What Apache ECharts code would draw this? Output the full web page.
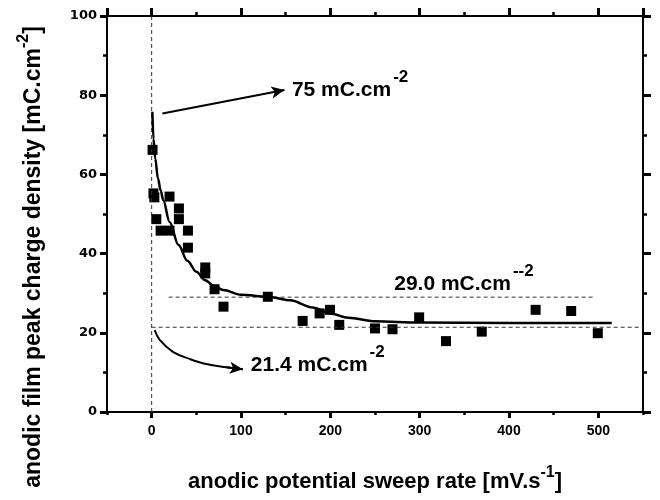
<!DOCTYPE html>
<html>
<head>
<meta charset="utf-8">
<script src="https://cdn.jsdelivr.net/npm/echarts@6/dist/echarts.min.js"></script>
<style>html,body{margin:0;padding:0;background:#fff}#c{width:660px;height:500px}</style>
</head>
<body>
<div id="c"></div>
<script>
// ---- data ----
const sweepRate = [1, 2, 3, 5.2, 10, 20, 20, 30.5, 30.5, 40.6, 40.6, 60, 60, 70.4, 80.4, 130, 169, 188, 199.6, 210, 250, 269.6, 299.4, 329.5, 369.5, 429.8, 469.6, 499.4];
const chargeDensity = [66.2, 55.2, 54.2, 48.7, 45.8, 45.8, 54.4, 51.4, 48.7, 45.8, 41.5, 36.5, 35.0, 31.0, 26.6, 29.1, 23.0, 24.9, 25.8, 22.0, 21.1, 20.9, 23.9, 17.9, 20.3, 25.8, 25.5, 19.9];
const fitX = [0.8, 2, 4, 7, 10, 13, 20, 30, 40, 50, 60, 70, 80, 100, 130, 155, 180, 200, 220, 250, 300, 400, 515];
const fitY = [75.8, 69, 64, 59, 56, 53.5, 48, 42.2, 38.2, 35.4, 33.3, 31.8, 30.8, 29.6, 29.1, 28.2, 26.4, 24.9, 23.8, 22.9, 22.6, 22.5, 22.5];
const level29 = 29.0, level29Span = [19, 495];
const level21 = 21.4, level21Span = [0, 550];
const xTickLabels = [0, 100, 200, 300, 400, 500];
const yTickLabels = [0, 20, 40, 60, 80, 100];
const xRange = [-50, 550];
const yRange = [0, 100];
// annotation anchors (data coords) and arrow paths
const note75 = { text: '75 mC.cm', sup: '-2', at: [157, 81.7] };
const note21 = { text: '21.4 mC.cm', sup: '-2', at: [111, 12.1] };
const note29 = { text: '29.0 mC.cm', sup: '--2', at: [271.5, 32.7] };
const arrow75 = [[12, 75.4], [148.6, 81.3]];
const arrow21PathX = [3.4, 9, 23.8, 42.5, 61, 83.5, 102];
const arrow21PathY = [20.7, 18.2, 15.2, 13.4, 12.1, 11.3, 10.8];

const chart = echarts.init(document.getElementById('c'), null, { renderer: 'canvas' });
const black = '#000';
const dash = [4, 3];
const font = 'Liberation Sans, Arial, sans-serif';

function fitData() { return fitX.map((x, i) => [x, fitY[i]]); }
function pts() { return sweepRate.map((x, i) => [x, chargeDensity[i]]); }
function arrow21Data() { return arrow21PathX.map((x, i) => [x, arrow21PathY[i]]); }

const noteRich = {
  m: { fontFamily: font, fontWeight: 'bold', fontSize: 21, color: black, lineHeight: 24, verticalAlign: 'bottom' },
  s: { fontFamily: font, fontWeight: 'bold', fontSize: 17, color: black, lineHeight: 17, verticalAlign: 'bottom', padding: [0, 0, 15, 2] }
};
function notePoint(n) {
  return {
    coord: n.at,
    label: { show: true, position: 'right', distance: 0, formatter: '{m|' + n.text + '}{s|' + n.sup + '}', rich: noteRich }
  };
}

// major x axis: automatic nice ticks (0,100,...,500); minor x axis: every 50 counted from min (-50)
function xMajor(pos, len, showLabel) {
  return {
    type: 'value', position: pos, min: xRange[0], max: xRange[1],
    axisLine: { show: true, onZero: false, lineStyle: { color: black, width: 2 } },
    axisTick: { show: true, length: len, lineStyle: { color: black, width: 3 } },
    axisLabel: showLabel ? { show: true, showMinLabel: false, showMaxLabel: false,
      formatter: v => (xTickLabels.indexOf(v) >= 0 ? String(v) : ''),
      fontFamily: font, fontWeight: 'bold', fontSize: 14, color: black, margin: 12 } : { show: false },
    splitLine: { show: false }, minorTick: { show: false }
  };
}
function xMinor(pos, len) {
  return {
    type: 'value', position: pos, min: xRange[0], max: xRange[1], interval: 50,
    axisLine: { show: false, onZero: false },
    axisTick: { show: true, length: len, lineStyle: { color: black, width: 2.5 } },
    axisLabel: { show: false }, splitLine: { show: false }, minorTick: { show: false }
  };
}
function yAxisDef(pos, len) {
  return {
    type: 'value', position: pos, min: yRange[0], max: yRange[1], interval: 20,
    axisLine: { show: true, onZero: false, lineStyle: { color: black, width: 2 } },
    axisTick: { show: true, length: len, lineStyle: { color: black, width: 3 } },
    minorTick: { show: true, splitNumber: 2, length: 4, lineStyle: { color: black, width: 2.5 } },
    axisLabel: { show: false }, splitLine: { show: false }
  };
}

const yLeft = Object.assign(yAxisDef('left', 7), {
  axisLabel: { show: true, fontFamily: 'DejaVu Sans', fontWeight: 'bold', fontSize: 13, color: black, margin: 10,
    formatter: v => (yTickLabels.indexOf(v) >= 0 ? String(v) : '') },
  name: '{a|anodic film peak charge density [mC.cm}{s|-2}{a|]}',
  nameLocation: 'middle', nameGap: 62,
  nameTextStyle: {
    padding: [0, 86, 0, 0],
    rich: {
      a: { fontFamily: font, fontWeight: 'bold', fontSize: 23, color: black, lineHeight: 28, verticalAlign: 'bottom' },
      s: { fontFamily: font, fontWeight: 'bold', fontSize: 16, color: black, lineHeight: 16, verticalAlign: 'bottom', padding: [0, 0, 13, 0] }
    }
  }
});

const option = {
  animation: false,
  backgroundColor: '#fff',
  grid: { left: 107, right: 17, top: 16, bottom: 88, containLabel: false },
  xAxis: [
    Object.assign(xMajor('bottom', 6, true), {
      name: '{a|anodic potential sweep rate [mV.s}{s|-1}{a|]}',
      nameLocation: 'middle', nameGap: 55,
      nameTextStyle: {
        rich: {
          a: { fontFamily: font, fontWeight: 'bold', fontSize: 22, color: black, lineHeight: 26, verticalAlign: 'bottom' },
          s: { fontFamily: font, fontWeight: 'bold', fontSize: 16, color: black, lineHeight: 16, verticalAlign: 'bottom', padding: [0, 0, 12, 0] }
        }
      }
    }),
    xMinor('bottom', 3),
    xMajor('top', 8, false),
    xMinor('top', 4)
  ],
  yAxis: [yLeft, yAxisDef('right', 8)],
  series: [
    {
      type: 'line', name: 'x0', data: [[0, yRange[0]], [0, yRange[1]]], showSymbol: false, silent: true,
      lineStyle: { color: '#333', width: 1, type: dash }
    },
    {
      type: 'line', name: 'l29', data: [[level29Span[0], level29], [level29Span[1], level29]], showSymbol: false, silent: true,
      lineStyle: { color: '#333', width: 1, type: dash }
    },
    {
      type: 'line', name: 'l21', data: [[level21Span[0], level21], [level21Span[1], level21]], showSymbol: false, silent: true,
      lineStyle: { color: '#333', width: 1, type: dash }
    },
    {
      type: 'line', name: 'arrow21', data: arrow21Data(), showSymbol: false, silent: true, smooth: 0.4,
      lineStyle: { color: black, width: 2 },
      markLine: {
        silent: true, symbol: ['none', 'arrow'], symbolSize: [9, 13], label: { show: false },
        lineStyle: { color: black, width: 2, type: 'solid' },
        data: [[{ coord: arrow21Data()[arrow21PathX.length - 2] }, { coord: arrow21Data()[arrow21PathX.length - 1] }]]
      }
    },
    {
      type: 'line', name: 'fit', data: fitData(), showSymbol: false, smooth: 0.35, smoothMonotone: 'x',
      lineStyle: { color: black, width: 2.5 },
      markLine: {
        silent: true, symbol: ['none', 'arrow'], symbolSize: [9, 13], label: { show: false },
        lineStyle: { color: black, width: 2, type: 'solid' },
        data: [[{ coord: arrow75[0] }, { coord: arrow75[1] }]]
      }
    },
    {
      type: 'scatter', name: 'data', data: pts(), symbol: 'rect', symbolSize: 10,
      itemStyle: { color: black, opacity: 1 },
      markPoint: {
        silent: true, symbol: 'circle', symbolSize: 0,
        data: [notePoint(note75), notePoint(note21), notePoint(note29)]
      }
    }
  ]
};
chart.setOption(option);
</script>
</body>
</html>
